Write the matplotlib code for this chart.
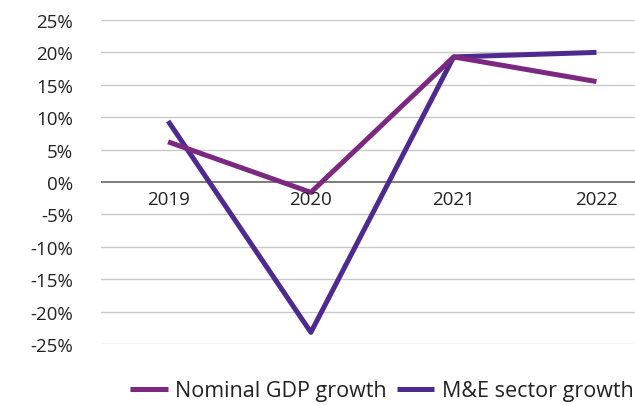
import matplotlib
matplotlib.use("Agg")
import matplotlib.pyplot as plt
from matplotlib.lines import Line2D

years = ["2019", "2020", "2021", "2022"]
nominal_gdp = [6.2, -1.6, 19.3, 15.5]
me_sector = [9.4, -23.2, 19.3, 20.0]
yticks = [-25, -20, -15, -10, -5, 0, 5, 10, 15, 20, 25]
ytick_labels = [f"{v}%" for v in yticks]

c_gdp = "#7D2880"
c_me = "#4F2A8E"

plt.rcParams["font.family"] = ["Open Sans", "DejaVu Sans"]

fig = plt.figure(figsize=(6.35, 4.06), dpi=100)
ax = fig.add_axes([101 / 635, 1 - 345 / 406, 1 - 101 / 635, (345 - 21) / 406])

x = list(range(len(years)))
ax.plot(x, nominal_gdp, color=c_gdp, lw=3.6, solid_capstyle="butt", zorder=3)
ax.plot(x, me_sector, color=c_me, lw=3.6, solid_capstyle="butt", zorder=2)

ax.set_xlim(-0.47, 3.27)
ax.set_ylim(-25, 25)
ax.set_yticks(yticks)
ax.set_yticklabels(ytick_labels, fontsize=13.5, color="#222222")
ax.tick_params(axis="y", length=0, pad=20)
for v in yticks:
    if v != 0:
        ax.axhline(v, color="#c8c8c8", lw=1.0, zorder=0)
ax.axhline(0, color="#666666", lw=1.2, zorder=1)

ax.set_xticks([])
for xi, lab in zip(x, years):
    ax.text(xi, -1.3, lab, ha="center", va="top", fontsize=13.5, color="#222222")

for s in ax.spines.values():
    s.set_visible(False)

handles = [Line2D([], [], color=c_gdp, lw=3.6, solid_capstyle="butt"),
           Line2D([], [], color=c_me, lw=3.6, solid_capstyle="butt")]
fig.legend(handles, ["Nominal GDP growth", "M&E sector growth"],
           loc="center", bbox_to_anchor=(382 / 635, 1 - 392 / 406),
           ncol=2, frameon=False, fontsize=15.5, handlelength=1.75,
           handletextpad=0.35, columnspacing=0.45, labelcolor="#222222",
           borderpad=0.0, borderaxespad=0.0)

fig.savefig("out.png", dpi=100)
